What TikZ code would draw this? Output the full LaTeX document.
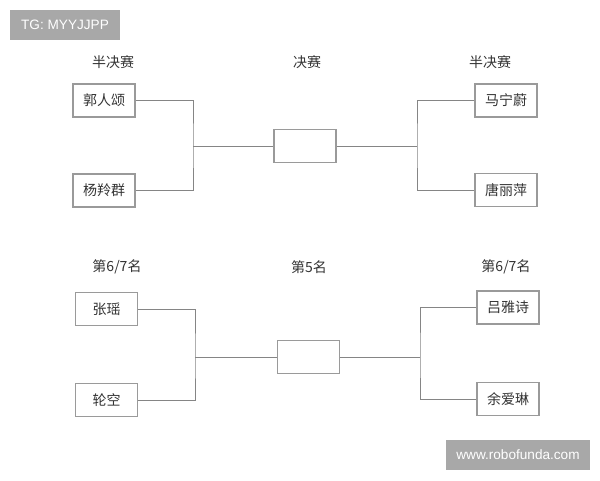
\documentclass[tikz,border=0pt]{standalone}
\usepackage{fontspec}
\setmainfont{Noto Sans CJK SC}
\newfontfamily\wmfont{Liberation Sans}
\definecolor{linegray}{HTML}{858585}
\definecolor{boxgray}{HTML}{9A9A9A}
\definecolor{txtgray}{HTML}{333333}
\definecolor{wmgray}{HTML}{A8A8A8}
\tikzset{
  player/.style={draw=boxgray, line width=0.8pt, fill=white, minimum width=46.5pt, minimum height=24.75pt, inner sep=0pt, font=\fontsize{10.5}{12}\selectfont, text=txtgray},
  roundlabel/.style={font=\fontsize{10.5}{12}\selectfont, text=txtgray, inner sep=0pt},
  link/.style={draw=linegray, line width=0.75pt},
  wmbox/.style={fill=wmgray, draw=none, inner sep=0pt, text=white, font=\wmfont\fontsize{10.2}{12}\selectfont}
}
\begin{document}
\begin{tikzpicture}[x=0.75pt,y=-0.75pt]
\useasboundingbox[fill=white] (0,0) rectangle (600,480);
% watermarks
\node[wmbox, minimum width=82.5pt, minimum height=22.5pt] (wm1) at (65,25) {TG: MYYJJPP};
\node[wmbox, minimum width=108pt, minimum height=22.5pt] (wm2) at (518,455) {www.robofunda.com};
% round labels
\node[roundlabel] (l1) at (113,62) {半决赛};
\node[roundlabel] (l2) at (307,62) {决赛};
\node[roundlabel] (l3) at (490,62) {半决赛};
\node[roundlabel] (l4) at (117,267) {第6/7名};
\node[roundlabel] (l5) at (309,267) {第5名};
\node[roundlabel] (l6) at (506,267) {第6/7名};
% top bracket
\node[player] (guo) at (104,100.5) {郭人颂};
\node[player] (yang) at (104,190.5) {杨羚群};
\node[player] (final) at (305,146) {};
\node[player] (ma) at (506,100.5) {马宁蔚};
\node[player] (tang) at (506,190) {唐丽萍};
\coordinate (jTL) at (193,146);
\coordinate (jTR) at (417,146);
\draw[link] (guo.east) -| (jTL) |- (yang.east);
\draw[link] (jTL) -- (final.west);
\draw[link] (ma.west) -| (jTR) |- (tang.west);
\draw[link] (jTR) -- (final.east);
% bottom bracket
\node[player] (zhang) at (106.5,309) {张瑶};
\node[player] (lun) at (106.5,400) {轮空};
\node[player] (fifth) at (308.5,357) {};
\node[player] (lv) at (508,307.5) {吕雅诗};
\node[player] (yu) at (508,399) {余爱琳};
\coordinate (jBL) at (195,357);
\coordinate (jBR) at (420,357);
\draw[link] (zhang.east) -| (jBL) |- (lun.east);
\draw[link] (jBL) -- (fifth.west);
\draw[link] (lv.west) -| (jBR) |- (yu.west);
\draw[link] (jBR) -- (fifth.east);
\end{tikzpicture}
\end{document}
